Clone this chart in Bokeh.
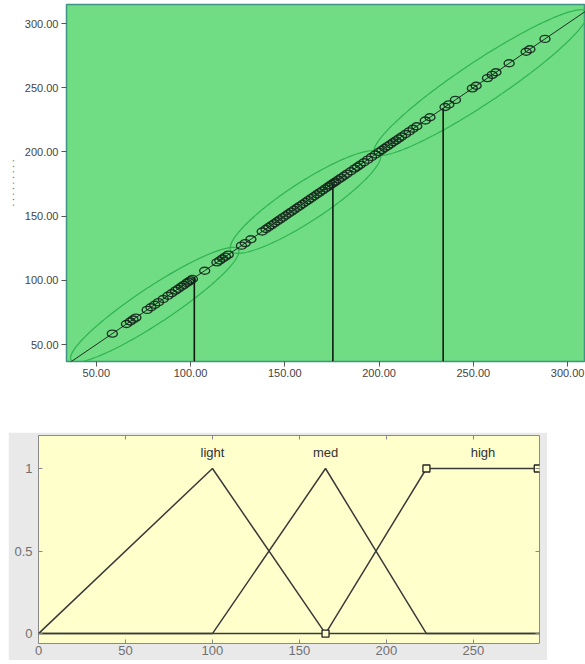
import numpy as np
from bokeh.plotting import figure
from bokeh.layouts import column, row
from bokeh.models import Range1d, FixedTicker, LinearAxis, NumeralTickFormatter, Spacer
from bokeh.embed import file_html
from bokeh.resources import INLINE
from bokeh.core.properties import value

FONT = "Liberation Sans"

# ---------------- top chart data (scatter along the diagonal) ----------------
scores = [58.5, 66, 68, 69.5, 71, 77, 79, 81, 83, 85.5, 88, 90, 92, 93.5, 95, 96.5, 98, 99, 100, 101,
          107.5, 114, 115.5, 117, 118.5, 120,
          127, 129, 132, 138, 140, 141.5, 143, 144.5, 146, 147.5, 149, 150.5, 152, 153.5, 155, 156.5,
          158, 159.5, 161, 162.5, 164, 165.5, 167, 168.5, 170, 171.5, 173, 174, 175, 176, 177, 178.5,
          180, 181.5, 183, 185, 187, 188.5, 190, 192, 194, 196, 198,
          200, 201.5, 203, 204.5, 206, 207.5, 209, 210.5, 212, 214, 216, 218, 220, 224.5, 227, 235, 237,
          240.5, 249.5, 251.5, 257.5, 260, 262, 269, 278, 280, 288]
predicted = list(scores)
cut_points = [102, 175.5, 234]
cluster_centers = [81, 161, 254]
cluster_major = [62, 55, 79]
cluster_minor = [12, 13, 14]
top_ticks = [50, 100, 150, 200, 250, 300]
top_xlim = (34.2, 309.5)
top_ylim = (36.8, 314.8)

# ---------------- bottom chart data (membership functions) ----------------
mf_names = ["light", "med", "high"]
light_x = [0, 100, 165, 288]
light_y = [0, 1, 0, 0]
med_x = [0, 100, 165, 223, 288]
med_y = [0, 0, 1, 0, 0]
high_x = [0, 165, 223, 288]
high_y = [0, 0, 1, 1]
label_x = [100, 165, 255.5]
label_y = [1.1, 1.1, 1.1]
sel_x = [165, 223, 287]
sel_y = [0, 1, 1]
bot_xticks = [0, 50, 100, 150, 200, 250]
bot_yticks = [0, 0.5, 1]

# ---------------- top figure ----------------
p1 = figure(width=585, height=432, x_range=Range1d(*top_xlim), y_range=Range1d(*top_ylim),
            output_backend="svg", toolbar_location=None,
            min_border_left=66, min_border_right=0, min_border_top=4, min_border_bottom=71)
p1.background_fill_color = "#70dc84"
p1.border_fill_color = "white"
p1.outline_line_color = "#3f9484"
p1.outline_line_width = 1.5
p1.xgrid.visible = False
p1.ygrid.visible = False
for ax in (p1.xaxis[0], p1.yaxis[0]):
    ax.ticker = FixedTicker(ticks=top_ticks)
    ax.formatter = NumeralTickFormatter(format="0.00")
    ax.major_label_text_font = FONT
    ax.major_label_text_font_size = "11px"
    ax.major_label_text_color = "#444444"
    ax.major_tick_in = 0
    ax.major_tick_out = 5
    ax.major_tick_line_color = "#555555"
    ax.minor_tick_line_color = None
    ax.axis_line_color = None
    ax.major_label_standoff = 3
p1.xaxis[0].major_label_standoff = 2
p1.yaxis[0].axis_label = ". . . . . . . . ."
p1.yaxis[0].axis_label_text_font = FONT
p1.yaxis[0].axis_label_text_font_size = "10px"
p1.yaxis[0].axis_label_text_font_style = "normal"
p1.yaxis[0].axis_label_text_color = "#555555"
p1.yaxis[0].axis_label_standoff = 6

# cluster ellipses (parametric, major axis along the diagonal)
t = np.linspace(0, 2 * np.pi, 240)
exs, eys = [], []
for c, a, b in zip(cluster_centers, cluster_major, cluster_minor):
    u = a * np.cos(t)
    w = b * np.sin(t)
    exs.append(c + (u - w) / np.sqrt(2))
    eys.append(c + (u + w) / np.sqrt(2))
p1.multi_line(exs, eys, line_color="#2fb350", line_width=1.2)

# diagonal reference line
p1.line([top_xlim[0], top_xlim[1]], [top_xlim[0], top_xlim[1]], line_color="#1e2e22", line_width=1)

# cut lines
p1.segment(x0=cut_points, y0=[top_ylim[0]] * len(cut_points), x1=cut_points, y1=cut_points,
           line_color="#101a12", line_width=1.6)

# points
p1.ellipse(x=scores, y=predicted, width=10, height=7, width_units="screen", height_units="screen",
           fill_alpha=0, line_color="#13231a", line_alpha=0.9, line_width=1.4)

# ---------------- bottom figure ----------------
p2 = figure(width=539, height=228, x_range=Range1d(0, 288), y_range=Range1d(-0.06, 1.2),
            output_backend="svg", toolbar_location=None,
            min_border_left=30, min_border_right=8, min_border_top=3, min_border_bottom=17)
p2.background_fill_color = "#ffffcc"
p2.border_fill_color = "#e9e9e9"
p2.outline_line_color = "#8a8a8a"
p2.outline_line_width = 1
p2.xgrid.visible = False
p2.ygrid.visible = False

p2.xaxis[0].ticker = FixedTicker(ticks=bot_xticks)
p2.yaxis[0].ticker = FixedTicker(ticks=bot_yticks)
p2.yaxis[0].major_label_overrides = {0: "0", 0.5: "0.5", 1: "1"}
for ax in (p2.xaxis[0], p2.yaxis[0]):
    ax.major_label_text_font = FONT
    ax.major_label_text_font_size = "13px"
    ax.major_label_text_color = "#707070"
    ax.major_tick_in = 4
    ax.major_tick_out = 0
    ax.major_tick_line_color = "#888888"
    ax.minor_tick_line_color = None
    ax.axis_line_color = None
p2.xaxis[0].major_label_standoff = 2
p2.yaxis[0].major_label_standoff = 6

top_ax = LinearAxis(ticker=FixedTicker(ticks=bot_xticks),
                    major_label_overrides={v: "" for v in bot_xticks})
right_ax = LinearAxis(ticker=FixedTicker(ticks=bot_yticks),
                      major_label_overrides={0: "", 0.5: "", 1: ""})
for ax in (top_ax, right_ax):
    ax.major_tick_in = 4
    ax.major_tick_out = 0
    ax.major_tick_line_color = "#888888"
    ax.minor_tick_line_color = None
    ax.axis_line_color = None
    ax.major_label_standoff = 0
    ax.major_label_text_font_size = "1px"
p2.add_layout(top_ax, "above")
p2.add_layout(right_ax, "right")

p2.multi_line([light_x, med_x, high_x], [light_y, med_y, high_y], line_color="#3a3a3a", line_width=1.5)
p2.scatter(x=sel_x, y=sel_y, marker="square", size=7, fill_color="#ffffcc",
           line_color="#222222", line_width=1.3)
p2.text(x=label_x, y=label_y, text=mf_names, text_align="center", text_baseline="middle",
        text_font=value(FONT), text_font_size="13px", text_color="#333333")

layout = column(p1, row(Spacer(width=8, height=228), p2, spacing=0), spacing=0)
open("out.html", "w").write(file_html(layout, INLINE))
